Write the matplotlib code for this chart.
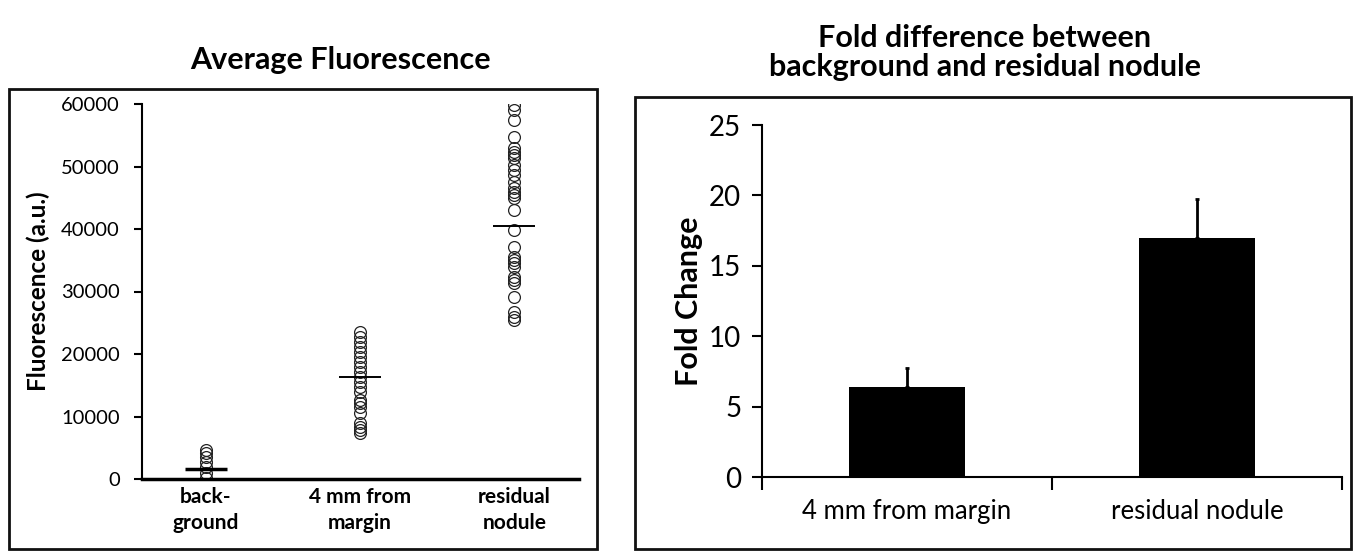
import numpy as np
import matplotlib
matplotlib.use("Agg")
import matplotlib.pyplot as plt
from matplotlib.patches import Rectangle

plt.rcParams['font.family'] = ['Lato', 'DejaVu Sans']

# Left panel data
groups = ['back-\nground', '4 mm from\nmargin', 'residual\nnodule']
background = [4640, 4110, 3570, 2770, 1970, 910, 110]
margin = [23570, 22770, 21970, 21170, 20370, 19570, 18770, 17970, 17170,
          16370, 15570, 14770, 13970, 12640, 12110, 11570, 10510, 8910,
          8370, 7840, 7310]
nodule = [59840, 59040, 57440, 54770, 52910, 52370, 51840, 51310, 50240,
          49440, 48640, 47570, 46510, 45970, 45440, 44910, 43040, 39840,
          37170, 35570, 35040, 34510, 33970, 32370, 31840, 31310, 29170,
          26770, 25970, 25440]
means = [1600, 16270, 40550]

# Right panel data
bar_labels = ['4 mm from margin', 'residual nodule']
fold = [6.42, 17.0]
fold_err = [1.35, 2.72]

fig = plt.figure(figsize=(13.59, 5.52), dpi=100, facecolor='w')

# panel frames
fig.add_artist(Rectangle((9/1359, 1-549/552), (597-9)/1359, (549-89)/552,
                         transform=fig.transFigure, fill=False, ec='#111111', lw=2))
fig.add_artist(Rectangle((635/1359, 1-549/552), (1351-635)/1359, (549-97)/552,
                         transform=fig.transFigure, fill=False, ec='#111111', lw=2))

# ---- left: average fluorescence scatter
ax1 = fig.add_axes([142/1359, 73/552, 437/1359, 375/552])
for i, vals in enumerate([background, margin, nodule]):
    ax1.plot(np.full(len(vals), i), vals, 'o', ms=8.5, mfc='none',
             mec='#222222', mew=0.9)
    ax1.hlines(means[i], i-0.135, i+0.135, colors='k',
               lw=2.5 if i == 0 else 1.4, zorder=3)
ax1.set_xlim(-0.415, 2.42)
ax1.set_ylim(0, 60000)
ax1.set_yticks(np.arange(0, 60001, 10000))
ax1.set_xticks(range(3))
ax1.set_xticklabels(groups, fontsize=15, fontweight='bold', linespacing=1.35)
ax1.tick_params(axis='x', length=0, pad=6)
ax1.tick_params(axis='y', direction='out', length=6, width=1.5, labelsize=14.5, pad=10)
ax1.set_ylabel('Fluorescence (a.u.)', fontsize=17.5, fontweight='bold', labelpad=8)
for spine in ('top', 'right'):
    ax1.spines[spine].set_visible(False)
ax1.spines['left'].set_linewidth(1.5)
ax1.spines['bottom'].set_linewidth(2.5)
fig.text(340/1359, 1-60/552, 'Average Fluorescence', ha='center', va='center',
         fontsize=22, fontweight='bold')

# ---- right: fold change bars
ax2 = fig.add_axes([762/1359, 75/552, 580/1359, 352/552])
xpos = np.array([0.5, 1.5])
ax2.bar(xpos, fold, width=0.4, color='k', zorder=2)
ax2.errorbar(xpos, fold, yerr=[[0, 0], fold_err], fmt='none', ecolor='k',
             elinewidth=2, capsize=1.5, capthick=2, zorder=1)
ax2.set_xlim(0, 2)
ax2.set_ylim(0, 25)
ax2.set_yticks(range(0, 26, 5))
ax2.set_xticks([0, 1, 2])
ax2.set_xticklabels([])
ax2.set_xticks(xpos, minor=True)
ax2.set_xticklabels(bar_labels, minor=True, fontsize=18.5)
ax2.tick_params(axis='x', which='major', direction='out', length=9, width=1.5)
ax2.tick_params(axis='x', which='minor', length=0, pad=16)
ax2.tick_params(axis='y', direction='out', length=7, width=1.5, labelsize=20, pad=8)
ax2.set_ylabel('Fold Change', fontsize=22, fontweight='bold', labelpad=4)
for spine in ('top', 'right'):
    ax2.spines[spine].set_visible(False)
ax2.spines['left'].set_linewidth(1.5)
ax2.spines['bottom'].set_linewidth(1.5)
fig.text(985/1359, 1-38/552, 'Fold difference between', ha='center', va='center',
         fontsize=22, fontweight='bold')
fig.text(985/1359, 1-67/552, 'background and residual nodule', ha='center',
         va='center', fontsize=22, fontweight='bold')

fig.savefig('out.png', dpi=100, facecolor='w')
